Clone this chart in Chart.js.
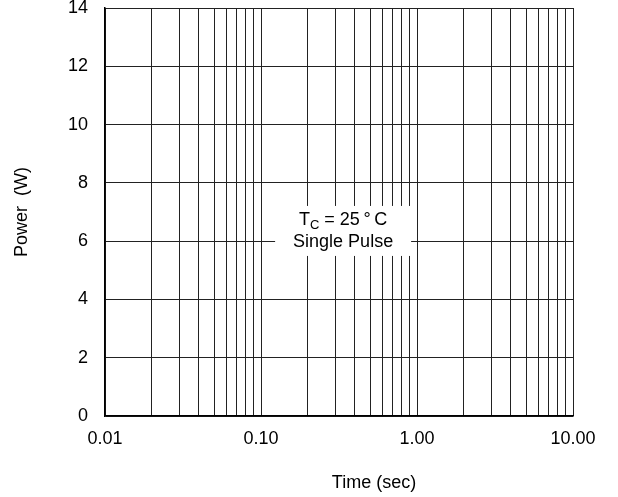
<!DOCTYPE html>
<html>
<head>
<meta charset="utf-8">
<script src="https://cdn.jsdelivr.net/npm/chart.js@4/dist/chart.umd.min.js"></script>
<style>
  html, body { margin: 0; padding: 0; background: #fff; }
  #wrap { position: relative; width: 618px; height: 497px; }
</style>
</head>
<body>
<div id="wrap"><canvas id="chart"></canvas></div>
<script>
// axis ranges and tick labels
const xMin = 0.01;
const xMax = 10;
const xGridValues = [
  0.01, 0.02, 0.03, 0.04, 0.05, 0.06, 0.07, 0.08, 0.09,
  0.1, 0.2, 0.3, 0.4, 0.5, 0.6, 0.7, 0.8, 0.9,
  1, 2, 3, 4, 5, 6, 7, 8, 9, 10
];
const xMajorValues = [0.01, 0.1, 1, 10];
const xTickLabels = ["0.01", "0.10", "1.00", "10.00"];
const yTickValues = [0, 2, 4, 6, 8, 10, 12, 14];

// annotation anchor (data units)
const noteX = 0.336;
const noteY = 6.35;

const fontFamily = '"Liberation Sans", Arial, Helvetica, sans-serif';

const notePlugin = {
  id: "note",
  afterDraw(chart) {
    const ctx = chart.ctx;
    const area = chart.chartArea;
    const cx = chart.scales.x.getPixelForValue(noteX);
    const cy = chart.scales.y.getPixelForValue(noteY);
    const w = 136, h = 50;
    const big = "18px " + fontFamily;
    const small = "13px " + fontFamily;
    ctx.save();
    ctx.fillStyle = "#fff";
    ctx.fillRect(cx - w / 2, cy - h / 2, w, h);
    ctx.fillStyle = "#000";
    ctx.textBaseline = "middle";
    // line 1: T_C = 25°C
    const partA = "T", partB = "C", partC = " = 25\u2009°\u2009C";
    ctx.font = big;
    const wa = ctx.measureText(partA).width;
    const wc = ctx.measureText(partC).width;
    ctx.font = small;
    const wb = ctx.measureText(partB).width;
    let x = cx - (wa + wb + wc) / 2;
    const y1 = cy - 11;
    ctx.textAlign = "left";
    ctx.font = big;
    ctx.fillText(partA, x, y1);
    x += wa;
    ctx.font = small;
    ctx.fillText(partB, x, y1 + 5);
    x += wb;
    ctx.font = big;
    ctx.fillText(partC, x, y1);
    // line 2
    ctx.textAlign = "center";
    ctx.fillText("Single Pulse", cx, cy + 11);
    // x axis title, sits right of centre in the original
    ctx.fillText("Time (sec)", (area.left + area.right) / 2 + 35, 483);
    ctx.restore();
  }
};

new Chart(document.getElementById("chart"), {
  type: "line",
  data: { datasets: [] },
  options: {
    responsive: true,
    maintainAspectRatio: false,
    animation: false,
    events: [],
    layout: { padding: { top: 8, right: 45, left: 0, bottom: 0 } },
    plugins: { legend: { display: false }, tooltip: { enabled: false } },
    scales: {
      x: {
        type: "logarithmic",
        min: xMin,
        max: xMax,
        afterBuildTicks: (axis) => {
          axis.ticks = xGridValues.map((v) => ({ value: v }));
        },
        afterFit: (scale) => { scale.height = 81; },
        ticks: {
          autoSkip: false,
          maxRotation: 0,
          padding: 12,
          color: "#000",
          font: { family: fontFamily, size: 18 },
          callback: (value) => {
            const i = xMajorValues.findIndex((m) => Math.abs(m - value) < m * 1e-6);
            return i >= 0 ? xTickLabels[i] : "";
          }
        },
        grid: { color: "#222", lineWidth: 1, drawTicks: false },
        border: { color: "#000", width: 1.5 }
      },
      y: {
        min: 0,
        max: 14,
        afterBuildTicks: (axis) => {
          axis.ticks = yTickValues.map((v) => ({ value: v }));
        },
        afterFit: (scale) => {
          scale.width = 105;
          scale.paddingTop = 0;
          scale.paddingBottom = 0;
        },
        ticks: {
          padding: 17,
          color: "#000",
          font: { family: fontFamily, size: 18 }
        },
        grid: { color: "#222", lineWidth: 1, drawTicks: false },
        border: { color: "#000", width: 1.5 },
        title: {
          display: true,
          text: "Power  (W)",
          color: "#000",
          font: { family: fontFamily, size: 18 },
          padding: { top: 11, bottom: 0 }
        }
      }
    }
  },
  plugins: [notePlugin]
});
</script>
</body>
</html>
